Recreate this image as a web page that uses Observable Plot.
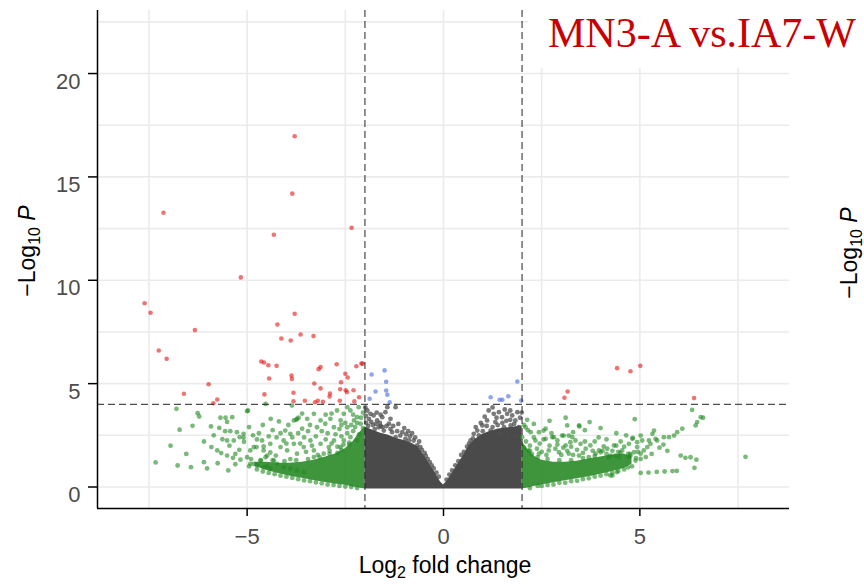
<!DOCTYPE html>
<html><head><meta charset="utf-8">
<script src="https://cdn.jsdelivr.net/npm/d3@7"></script>
<script src="https://cdn.jsdelivr.net/npm/@observablehq/plot@0.6"></script>
<style>
body{margin:0;background:#fff;}
#chart{width:864px;height:584px;overflow:hidden;}
</style></head>
<body><div id="chart"></div>
<script>
// ---- data (log2 fold change, -log10 P) ----
const titleText = "MN3-A vs.IA7-W";
const xTicks = [-5, 0, 5];
const yTicks = [0, 5, 10, 15, 20];
const gridX = [-7.5, -5, -2.5, 0, 2.5, 5, 7.5];
const gridY = [0, 2.5, 5, 7.5, 10, 12.5, 15, 17.5, 20, 22.5];
const fcCut = [-2, 2];
const pCut = [4];

const redPts = [
[-3.79,16.97],[-3.85,14.19],[-7.13,13.27],[-2.34,12.54],[-4.32,12.20],[-5.16,10.14],
[-7.61,8.89],[-7.46,8.43],[-3.79,8.38],[-6.33,7.59],[-4.23,7.86],[-4.13,7.18],[-3.89,7.09],
[-3.64,7.38],[-3.31,7.30],[-7.25,6.60],[-7.05,6.20],[-4.64,6.07],[-4.57,6.02],[-4.46,5.89],
[-4.25,5.86],[-3.18,5.70],[-3.13,5.80],[-2.72,5.94],[-2.22,5.84],[-2.09,5.97],[-2.06,5.97],
[-4.44,5.25],[-3.87,5.39],[-3.86,5.23],[-2.50,5.48],[-2.44,5.30],[-3.29,5.01],[-3.13,4.77],
[-2.61,5.07],[-5.98,4.97],[-6.61,4.51],[-4.56,4.48],[-3.82,4.56],[-2.89,4.52],[-2.63,4.73],
[-2.49,4.68],[-2.29,4.68],[-2.15,4.34],[-5.76,4.23],[-5.86,4.05],[-3.82,4.15],[-3.53,4.17],
[-3.27,4.10],[-3.20,4.17],[-3.07,4.12],[-2.90,4.38],[-2.64,4.17],[-2.27,4.14],[-2.46,4.59],
[4.42,5.75],[4.76,5.60],[5.01,5.86],[3.16,4.62],[3.08,4.32],[6.38,4.30]
];
const bluePts = [
[-1.83,5.44],[-1.50,5.64],[-1.46,5.09],[-1.73,4.62],[-1.46,4.67],[-1.43,4.46],[-1.88,4.27],[-1.37,4.10],
[1.20,4.34],[1.43,4.22],[1.50,4.22],[1.65,4.39],[1.88,5.10],[1.98,4.18]
];
const greenPts = [
[-7.33,1.19],[-6.77,1.04],[-6.43,0.96],[-6.02,0.90],[-5.48,0.80],
[-6.80,3.78],[-6.72,2.77],[-6.39,2.96],[-6.26,3.57],[-6.22,3.41],[-5.92,2.93],[-5.91,1.93],
[-5.71,2.86],[-5.68,3.35],[-5.55,3.35],[-5.51,3.15],[-5.38,3.38],[-5.56,2.70],[-5.43,2.70],[-5.26,2.65],
[-5.63,2.31],[-5.51,2.25],[-5.34,2.25],[-5.19,2.41],[-5.09,2.57],[-5.08,2.19],[-4.98,3.70],
[-5.76,1.77],[-5.66,1.64],[-5.51,1.52],[-5.36,1.41],[-5.17,1.32],
[-4.53,4.02],[-4.19,3.17],[-4.03,2.73],[-3.86,3.94],[-3.75,3.25],[-3.69,3.35],
[-5.00,3.67],[-5.09,2.39],[-4.83,1.93],[-4.58,1.77],[-4.41,2.09],[-4.53,1.44],[-4.32,1.28],[-4.66,1.28],[-4.83,1.12],[-5.00,1.44],
[-4.07,2.25],[-3.90,2.57],[-3.81,3.22],[-3.73,3.30],[-3.60,2.82],
[-3.47,3.30],[-3.30,3.54],[-3.22,2.89],[-3.13,3.22],[-3.01,3.06],[-2.88,3.30],[-2.79,2.89],[-2.71,3.70],
[-2.62,3.22],[-2.54,3.54],[-2.45,3.86],[-2.37,3.70],[-2.45,2.89],[-2.28,3.22],[-2.20,3.38],[-2.11,3.06],[-2.16,3.86],
[-4.15,1.93],[-3.98,1.77],[-3.81,2.09],[-3.73,1.61],[-3.56,1.93],[-3.39,2.25],[-3.30,1.77],[-3.13,2.09],
[-3.05,1.61],[-2.92,1.93],[-2.79,2.25],[-2.62,1.93],[-2.54,2.25],[-2.37,2.41],[-2.20,2.25],
[-4.92,1.77],[-4.76,1.93],[-4.62,2.25],[-4.58,1.96],[-4.49,1.52],[-4.41,1.67],[-4.27,1.52],
[-4.24,1.12],[-4.07,0.96],[-3.90,0.88],[-3.73,0.80],[-3.56,0.72],
[-4.92,1.12],[-4.75,1.04],[-4.58,0.96],[-4.41,0.88],
[-2.50,0.02],[-2.80,0.10],[-3.10,0.18],[-3.40,0.28],[-3.70,0.38],[-4.00,0.50],[-4.30,0.62],[-4.60,0.75],
[-4.95,2.90],[-4.85,2.50],[-4.70,2.60],[-4.60,3.00],[-4.45,2.45],[-4.35,2.75],[-4.25,2.40],[-4.15,2.60],
[-4.00,2.10],[-3.95,3.00],[-3.85,2.40],[-3.70,2.60],[-3.65,2.10],[-3.55,2.40],[-3.50,1.70],[-3.45,2.70],
[-3.35,2.00],[-3.25,2.45],[-3.20,1.55],[-3.10,2.70],[-3.00,2.30],[-2.95,2.60],[-2.90,1.75],[-2.85,2.10],
[-2.75,2.55],[-2.70,1.95],[-2.65,2.80],[-2.60,2.45],[-2.55,2.05],[-2.50,3.10],[-2.45,2.60],[-2.40,2.15],
[-2.35,3.00],[-2.30,2.70],[-2.25,2.90],[-2.20,3.10],[-2.15,2.55],[-2.10,3.35],[-2.05,2.85],[-2.05,3.60],
[-2.30,3.50],[-2.60,3.00],[-2.85,3.55],[-3.00,3.50],[-3.40,3.00],[-3.60,3.55],[-4.40,3.30],[-4.75,2.30],
[-5.20,1.80],[-5.30,1.60],[-5.45,2.00],[-5.85,2.50],[-6.10,2.20],[-6.55,1.60],[-6.95,2.00],[-6.10,1.20],
[-5.75,1.15],[-5.30,1.10],[-4.50,1.00],
[-2.40,2.05],[-2.60,1.80],[-2.90,1.60],[-3.15,1.45],[-3.45,1.35],[-3.75,1.30],[-4.05,1.25],[-4.35,1.30],
[-4.65,1.30],[-4.90,1.35],[-2.70,1.65],[-3.30,1.45],[-3.90,1.35],
[-2.20,-0.05],[-2.35,0.00],[-2.65,0.05],[-2.95,0.12],[-3.25,0.22],[-3.55,0.32],[-3.85,0.44],[-4.15,0.55],
[-4.45,0.68],[-4.75,0.85],[-4.95,1.00],
[2.13,3.25],[2.60,2.82],[3.11,3.35],[3.15,2.98],[3.45,2.98],[3.72,3.14],[4.87,3.28],[4.51,2.20],
[4.08,1.96],[4.17,1.85],[4.82,2.38],[4.93,2.17],[5.06,2.25],
[2.09,2.89],[2.22,2.65],[2.00,2.41],[2.34,2.25],[2.43,2.65],[2.60,2.33],[2.77,2.41],[2.90,2.25],
[3.02,2.49],[3.11,2.01],[3.23,2.17],[3.36,2.25],[3.49,2.09],[3.62,1.85],[3.74,2.01],[3.87,1.61],[3.96,1.77],
[2.17,1.77],[2.43,1.61],[2.68,1.77],[2.94,1.68],[3.19,1.61],[3.45,1.52],[3.70,1.44],[4.21,1.44],
[4.38,1.52],[4.55,1.77],[4.72,1.44],[4.89,1.28],[5.02,1.61],[4.30,0.56],
[6.33,3.73],[6.55,3.38],[6.61,3.35],[6.46,3.14],[6.42,2.98],[6.08,2.82],[5.95,2.65],[5.87,2.49],[5.74,2.41],[5.61,2.41],
[5.36,2.73],[5.32,2.57],[5.40,2.33],[5.44,2.25],[5.23,2.25],[5.27,2.09],[5.19,1.93],[5.10,1.77],
[5.02,2.49],[4.81,2.33],[4.72,2.09],[4.93,1.93],[4.85,1.68],[4.76,1.52],[5.02,1.36],
[4.34,2.01],[4.00,1.68],[4.25,1.52],[4.47,1.44],[4.25,0.56],[4.42,0.72],
[5.02,0.68],[5.22,0.70],[5.43,0.73],[5.63,0.75],[5.83,0.77],[5.94,0.78],
[6.04,1.52],[6.16,1.41],[6.29,1.44],[6.44,1.32],[6.39,0.93],[7.69,1.46],
[3.46,2.93],[2.55,2.73],[2.81,2.41],[3.06,2.49],[3.19,2.49],[3.28,2.41],
[2.50,0.05],[2.80,0.12],[3.10,0.20],[3.40,0.30],[3.70,0.42],[4.00,0.55],[4.30,0.70],[4.60,0.85],[4.80,1.00],
[2.05,1.90],[2.10,2.20],[2.20,2.00],[2.25,1.60],[2.30,2.40],[2.38,1.85],[2.45,2.10],[2.50,1.70],
[2.55,2.30],[2.62,1.55],[2.70,2.00],[2.75,2.60],[2.85,1.85],[2.90,2.05],[3.00,1.55],[3.05,1.90],
[3.15,1.75],[3.25,1.95],[3.30,1.55],[3.40,1.80],[3.55,1.65],[3.60,2.20],[3.80,1.75],[3.85,2.20],
[3.95,2.40],[4.05,1.75],[4.15,2.30],[4.30,1.75],[4.40,2.00],[4.50,1.65],[4.60,1.95],[4.65,2.50],
[4.70,1.60],[4.95,1.70],[5.15,1.45],[5.30,1.60],[5.50,1.90],[5.60,2.05],[5.70,1.75],[2.05,3.00],
[2.15,2.75],[2.30,3.05],[2.70,3.20],[3.30,2.65],[3.60,2.75],[4.00,2.85],[4.40,2.60],
[2.20,1.75],[2.40,1.45],[2.65,1.35],[2.95,1.30],[3.25,1.30],[3.55,1.40],[3.85,1.50],[4.15,1.60],
[4.45,1.70],[4.75,1.60],[4.90,1.40],
[2.20,-0.05],[2.40,0.05],[2.65,0.10],[2.95,0.20],[3.25,0.28],[3.55,0.38],[3.85,0.50],[4.15,0.62],
[4.45,0.78],[4.70,0.95]
];
const greyPts = [
[-1.94,3.70],[-1.86,3.54],[-1.90,3.30],[-1.78,3.46],[-1.69,3.22],[-1.56,3.38],[-1.48,3.62],[-1.43,3.86],
[-1.39,3.06],[-1.65,2.89],[-1.52,2.73],[-1.31,2.65],[-1.22,2.41],[-1.10,2.49],[-0.97,2.33],[-0.88,2.25],
[-0.76,2.25],[-0.67,2.01],[-0.59,1.93],[-1.22,3.86],[-1.97,3.10],[-1.80,3.00],[-1.60,2.95],[-1.75,2.80],
[-0.45,1.50],[-0.30,1.05],[-0.18,0.70],[0.15,0.60],[0.30,1.05],[0.45,1.55],[0.60,1.95],
[-1.98,3.45],[-1.92,2.95],[-1.84,3.15],[-1.72,3.05],[-1.62,3.10],[-1.55,2.90],[-1.45,2.95],[-1.35,2.80],
[-1.28,2.95],[-1.18,2.70],[-1.05,2.65],[-0.95,2.55],[-0.85,2.45],[-0.72,2.40],[-0.62,2.20],[-0.55,1.80],
[-0.48,1.65],[-0.40,1.35],[-0.35,1.20],[-0.25,0.90],[-0.12,0.50],[-1.70,3.60],[-1.60,3.50],[-1.99,3.85],
[-1.35,3.30],[-1.15,3.05],[-1.00,2.85],[-0.90,2.70],[-0.80,2.60],
[1.15,3.70],[1.28,3.54],[1.41,3.62],[1.49,3.38],[1.62,3.54],[1.75,3.46],[1.88,3.62],[1.83,3.22],
[1.32,3.14],[1.11,3.22],[0.99,2.98],[0.86,2.73],[0.77,2.57],[1.54,2.89],[1.71,2.98],[1.92,2.89],
[1.20,2.73],[1.45,2.57],[0.69,2.25],[1.62,2.41],[1.83,2.49],
[0.08,0.35],[0.22,0.80],[0.38,1.25],[0.52,1.70],[0.65,2.10],[0.75,2.35],[0.90,2.50],[1.00,2.70],
[1.10,2.95],[1.25,2.90],[1.38,3.00],[1.50,3.10],[1.60,3.20],[1.70,3.25],[1.80,3.05],[1.95,3.35],
[1.99,3.60],[1.35,3.35],[1.05,3.40],[0.95,3.10],[1.70,3.70],[1.56,3.75],[1.25,3.85],[0.82,2.90]
];
// dense cores (outline of the overplotted solid regions)
const greyCoreX   = [-2.0,-1.8,-1.6,-1.4,-1.2,-1.0,-0.8,-0.65,-0.5,-0.35,-0.2,-0.08,0.0,0.08,0.2,0.35,0.5,0.65,0.8,1.0,1.2,1.4,1.6,1.8,2.0];
const greyCoreTop = [2.9,2.75,2.6,2.5,2.35,2.25,2.1,1.95,1.55,1.1,0.65,0.25,0.1,0.25,0.6,1.05,1.5,2.0,2.3,2.55,2.7,2.8,2.85,2.9,2.95];
const greenLX   = [-2.0,-2.15,-2.3,-2.5,-2.75,-3.0,-3.3,-3.6,-3.9,-4.2,-4.5,-4.8];
const greenLTop = [2.9,2.6,2.2,1.85,1.6,1.45,1.3,1.2,1.15,1.15,1.2,1.2];
const greenLBot = [-0.1,-0.05,0.0,0.08,0.15,0.22,0.32,0.42,0.52,0.65,0.8,1.0];
const greenRX   = [2.0,2.15,2.3,2.5,2.8,3.1,3.4,3.7,4.0,4.3,4.6,4.8];
const greenRTop = [2.2,1.8,1.5,1.3,1.2,1.2,1.25,1.35,1.45,1.55,1.6,1.45];
const greenRBot = [-0.1,-0.05,0.02,0.1,0.2,0.3,0.4,0.5,0.62,0.75,0.9,1.1];

const greyCore = greyCoreX.map((x,i)=>({x, y1:-0.1, y2:greyCoreTop[i]}));
const greenL = greenLX.map((x,i)=>({x, y1:greenLBot[i], y2:greenLTop[i]}));
const greenR = greenRX.map((x,i)=>({x, y1:greenRBot[i], y2:greenRTop[i]}));

const XD = [-8.81, 8.81], YD = [-1.04, 23.05];
const font = "'Liberation Sans', Arial, Helvetica, sans-serif";

const svg = Plot.plot({
  width: 864, height: 584,
  marginLeft: 97, marginRight: 75, marginTop: 10, marginBottom: 76,
  style: {fontFamily: font, background: "white", overflow: "visible"},
  x: {domain: XD},
  y: {domain: YD},
  marks: [
    Plot.ruleX(gridX, {stroke: "#ebebeb", strokeWidth: 1.6}),
    Plot.ruleY(gridY, {stroke: "#ebebeb", strokeWidth: 1.6}),
    Plot.areaY(greenL, {x: "x", y1: "y1", y2: "y2", fill: "#2a8a26", fillOpacity: 0.9, curve: "linear"}),
    Plot.areaY(greenR, {x: "x", y1: "y1", y2: "y2", fill: "#2a8a26", fillOpacity: 0.9, curve: "linear"}),
    Plot.areaY(greyCore, {x: "x", y1: "y1", y2: "y2", fill: "#4a4a4a", curve: "linear"}),
    Plot.dot(greenPts, {x: d=>d[0], y: d=>d[1], r: 2.4, fill: "#228B22", fillOpacity: 0.6, stroke: null}),
    Plot.dot(greyPts, {x: d=>d[0], y: d=>d[1], r: 2.4, fill: "#4d4d4d", fillOpacity: 0.75, stroke: null}),
    Plot.dot(bluePts, {x: d=>d[0], y: d=>d[1], r: 2.3, fill: "#4169E1", fillOpacity: 0.6, stroke: null}),
    Plot.dot(redPts, {x: d=>d[0], y: d=>d[1], r: 2.3, fill: "#e00000", fillOpacity: 0.55, stroke: null}),
    Plot.ruleX(fcCut, {stroke: "#222", strokeWidth: 1, strokeDasharray: "7,4"}),
    Plot.ruleY(pCut, {stroke: "#222", strokeWidth: 1, strokeDasharray: "7,4"}),
    Plot.ruleX([XD[0]], {stroke: "black", strokeWidth: 1.5}),
    Plot.ruleY([YD[0]], {stroke: "black", strokeWidth: 1.5}),
    Plot.axisX({ticks: xTicks, tickSize: 8, tickPadding: 12, fontSize: 22, stroke: "black", strokeWidth: 1.5, fill: "#4d4d4d", label: null}),
    Plot.axisY({ticks: yTicks, tickSize: 9, tickPadding: 8, fontSize: 22, stroke: "black", strokeWidth: 1.5, fill: "#4d4d4d", label: null})
  ]
});
document.getElementById("chart").appendChild(svg);

const s = d3.select(svg);
// y tick labels sit a little below their ticks in the reference
s.selectAll("g[aria-label='y-axis tick label']").each(function() {
  const g = d3.select(this);
  const t = g.attr("transform") || "";
  g.attr("transform", (t + " translate(0,8)").trim());
});
// white box behind the title
s.append("rect").attr("x", 528).attr("y", 0).attr("width", 336).attr("height", 68).attr("fill", "white");
s.append("text").attr("x", 548).attr("y", 47).attr("text-anchor", "start")
  .attr("font-family", "'Liberation Serif','Times New Roman',serif").attr("font-size", 42)
  .attr("fill", "#c80000").text(titleText);

// x axis title
const xt = s.append("text").attr("x", 445).attr("y", 573).attr("text-anchor", "middle")
  .attr("font-family", font).attr("font-size", 23).attr("fill", "black");
xt.append("tspan").text("Log");
xt.append("tspan").attr("font-size", 16).attr("dy", 5).text("2");
xt.append("tspan").attr("dy", -5).text(" fold change");

// y axis titles (left, and cropped neighbour panel on the right)
function yTitle(x, y) {
  const t = s.append("text").attr("transform", `translate(${x},${y}) rotate(-90)`)
    .attr("text-anchor", "middle").attr("font-family", font).attr("font-size", 23).attr("fill", "black");
  t.append("tspan").text("\u2212Log");
  t.append("tspan").attr("font-size", 16).attr("dy", 5).text("10");
  t.append("tspan").attr("dy", -5).text(" ");
  t.append("tspan").attr("font-style", "italic").text("P");
}
yTitle(35, 251);
yTitle(857, 253);
</script>
</body></html>
